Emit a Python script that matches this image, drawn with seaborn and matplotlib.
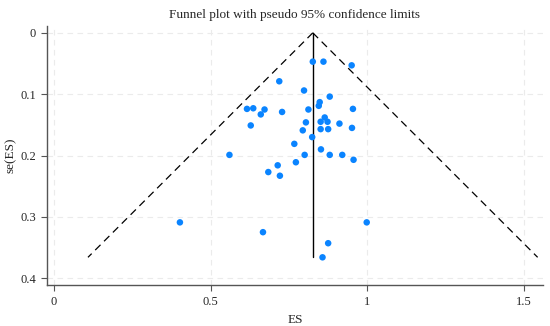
import numpy as np
import pandas as pd
import matplotlib.pyplot as plt
import seaborn as sns

# Study effect sizes and their standard errors
es = [0.826, 0.860, 0.950, 0.719, 0.798, 0.880, 0.848, 0.845, 0.616, 0.636,
      0.672, 0.954, 0.812, 0.660, 0.728, 0.864, 0.804, 0.851, 0.873, 0.911,
      0.628, 0.951, 0.794, 0.851, 0.875, 0.824, 0.767, 0.852, 0.560, 0.800,
      0.880, 0.920, 0.956, 0.714, 0.772, 0.684, 0.721, 0.998, 0.667, 0.402,
      0.875, 0.857]
se = [0.047, 0.047, 0.053, 0.079, 0.094, 0.104, 0.113, 0.119, 0.124, 0.123,
      0.125, 0.124, 0.125, 0.133, 0.129, 0.138, 0.146, 0.145, 0.145, 0.148,
      0.151, 0.155, 0.159, 0.157, 0.157, 0.170, 0.181, 0.190, 0.199, 0.199,
      0.199, 0.199, 0.207, 0.216, 0.211, 0.227, 0.233, 0.309, 0.325, 0.309,
      0.343, 0.366]

pooled_es = 0.826
se_max = 0.366

x_ticks = [0, 0.5, 1, 1.5]
x_tick_labels = ['0', '0.5', '1', '1.5']
y_ticks = [0, 0.1, 0.2, 0.3, 0.4]
y_tick_labels = ['0', '0.1', '0.2', '0.3', '0.4']

df = pd.DataFrame({'ES': es, 'se': se})

sns.set_style('white')
plt.rcParams['font.family'] = ['Liberation Serif', 'DejaVu Serif']

fig = plt.figure(figsize=(5.5, 3.26), dpi=100)
ax = fig.add_axes([0.0855, 0.126, 0.9015, 0.794])

# pseudo 95% limits
se_line = np.array([0, se_max])
funnel = pd.DataFrame({
    'se': np.concatenate([se_line, se_line]),
    'ES': np.concatenate([pooled_es - 1.96 * se_line, pooled_es + 1.96 * se_line]),
    'side': ['lo', 'lo', 'hi', 'hi'],
})
for side, g in funnel.groupby('side'):
    ax.plot(g['ES'], g['se'], color='black', lw=0.9, ls=(0, (6, 4)), zorder=2)
ax.plot([pooled_es, pooled_es], [0, se_max], color='black', lw=1.0, zorder=2)

sns.scatterplot(data=df, x='ES', y='se', ax=ax, color='#0A84FF',
                s=22, edgecolor='none', zorder=3)

ax.set_xlim(-0.022, 1.56)
ax.set_ylim(0.411, -0.011)
ax.set_xticks(x_ticks)
ax.set_xticklabels(x_tick_labels)
ax.set_yticks(y_ticks)
ax.set_yticklabels(y_tick_labels)
ax.grid(True, color='#ebebeb', ls=(0, (5, 4)), lw=0.8)
ax.set_axisbelow(True)

for s in ['top', 'right']:
    ax.spines[s].set_visible(False)
for s in ['left', 'bottom']:
    ax.spines[s].set_color('#555555')
    ax.spines[s].set_linewidth(1.0)
ax.tick_params(axis='both', direction='out', length=4, width=0.8,
               color='#555555', labelsize=9, pad=4, bottom=True, left=True)

ax.set_xlabel('ES', fontsize=9.5, labelpad=4)
ax.set_ylabel('se(ES)', fontsize=9.5)
ax.yaxis.set_label_coords(-0.061, 0.5)
ax.set_title('Funnel plot with pseudo 95% confidence limits', fontsize=9.5, pad=6)

fig.savefig('out.png', dpi=100)
